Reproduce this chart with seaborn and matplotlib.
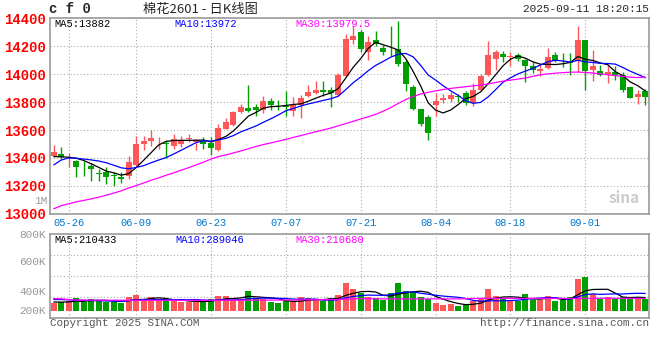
import numpy as np
import pandas as pd
import matplotlib
matplotlib.use("Agg")
import matplotlib.pyplot as plt
import seaborn as sns

# ── 棉花2601 日K ──
opens = [13412, 13428, 13390, 13375, 13338, 13342, 13290, 13302, 13276, 13263,
         13269, 13351, 13497, 13518, 13518, 13507, 13486, 13500, 13536, 13514,
         13524, 13507, 13460, 13610, 13633, 13728, 13760, 13765, 13740, 13810,
         13781, 13772, 13738, 13780, 13846, 13867, 13886, 13886, 13850, 13988,
         14245, 14299, 14158, 14247, 14189, 14190, 14177, 14089, 13911, 13750,
         13695, 13780, 13818, 13822, 13845, 13866, 13796, 13885, 13995, 14112,
         14147, 14120, 14138, 14102, 14060, 14025, 14045, 14138, 14090, 14086,
         14097, 14245, 14031, 14020, 14000, 14019, 13996, 13907, 13834, 13876]
highs = [13490, 13479, 13438, 13388, 13376, 13363, 13320, 13333, 13300, 13300,
         13412, 13557, 13555, 13598, 13550, 13531, 13568, 13560, 13574, 13538,
         13550, 13548, 13645, 13683, 13736, 13783, 13924, 13789, 13845, 13831,
         13818, 13881, 13836, 13850, 13922, 13952, 13952, 13910, 14010, 14286,
         14344, 14314, 14274, 14310, 14212, 14345, 14381, 14105, 13921, 13752,
         13707, 13865, 13857, 13875, 13858, 13876, 13940, 14000, 14240, 14172,
         14163, 14160, 14155, 14110, 14090, 14067, 14190, 14158, 14150, 14150,
         14348, 14245, 14174, 14067, 14067, 14060, 14012, 13910, 13888, 13895]
lows = [13405, 13395, 13335, 13262, 13274, 13238, 13238, 13211, 13198, 13217,
        13250, 13345, 13460, 13485, 13467, 13398, 13463, 13476, 13514, 13457,
        13464, 13419, 13448, 13605, 13628, 13722, 13731, 13700, 13721, 13745,
        13743, 13700, 13700, 13685, 13840, 13860, 13843, 13767, 13843, 13985,
        14219, 14160, 14098, 14200, 14140, 14128, 14060, 13880, 13740, 13629,
        13526, 13697, 13793, 13800, 13802, 13781, 13769, 13880, 13990, 14031,
        14085, 14055, 14095, 13945, 14010, 13985, 14040, 14090, 14050, 13995,
        14019, 13883, 13948, 13990, 13940, 13955, 13869, 13826, 13788, 13781]
closes = [13440, 13408, 13395, 13335, 13333, 13318, 13283, 13263, 13271, 13249,
          13369, 13502, 13524, 13544, 13524, 13498, 13534, 13531, 13542, 13531,
          13502, 13471, 13614, 13655, 13726, 13766, 13738, 13744, 13810, 13780,
          13776, 13768, 13781, 13831, 13875, 13886, 13869, 13862, 13994, 14251,
          14272, 14178, 14228, 14214, 14161, 14186, 14075, 13926, 13750, 13644,
          13581, 13811, 13826, 13852, 13838, 13795, 13890, 13989, 14138, 14162,
          14120, 14127, 14105, 14057, 14031, 14036, 14124, 14096, 14085, 14082,
          14245, 14024, 14055, 13995, 14019, 13995, 13883, 13829, 13860, 13833]
# volume in K, as drawn
volumes = [153, 167, 193, 253, 173, 227, 200, 180, 180, 160,
           273, 313, 200, 273, 227, 207, 193, 180, 167, 193,
           180, 233, 293, 293, 220, 240, 393, 247, 233, 173,
           153, 193, 173, 273, 247, 227, 193, 247, 313, 553,
           433, 353, 280, 253, 220, 353, 553, 393, 373, 280,
           233, 153, 113, 133, 93, 113, 187, 227, 433, 293,
           227, 213, 187, 333, 213, 213, 293, 193, 213, 273,
           633, 673, 327, 233, 273, 247, 280, 280, 267, 240]

# moving averages before the window fills (need history not on the chart)
ma5_head = [13410, 13408, 13405, 13398]
ma10_head = [13350, 13385, 13400, 13398, 13392, 13386, 13378, 13366, 13348]
ma30 = [13036, 13058, 13072, 13085, 13096, 13107, 13119, 13133, 13148, 13164,
        13185, 13202, 13220, 13240, 13257, 13276, 13293, 13312, 13330, 13350,
        13370, 13392, 13410, 13422, 13436, 13450, 13466, 13482, 13496, 13508,
        13520, 13533, 13547, 13560, 13574, 13588, 13600, 13614, 13630, 13646,
        13662, 13679, 13695, 13712, 13735, 13760, 13790, 13818, 13840, 13858,
        13870, 13880, 13890, 13898, 13904, 13910, 13916, 13922, 13930, 13940,
        13950, 13957, 13965, 13972, 13985, 13995, 14002, 14007, 14011, 14014,
        14015, 14012, 14008, 14002, 13996, 13990, 13984, 13978, 13976, 13979.5]
vol_ma5_head = [175, 170, 178, 190]
vol_ma10_head = [225, 222, 218, 212, 207, 203, 199, 196, 192]
vol_ma30 = [240, 238, 222, 213, 212, 212, 211, 210, 210, 209,
            208, 208, 207, 207, 207, 208, 208, 207, 207, 208,
            208, 209, 209, 210, 210, 210, 211, 211, 212, 212,
            213, 214, 215, 216, 217, 218, 220, 224, 228, 232,
            236, 240, 240, 238, 236, 236, 236, 236, 236, 236,
            236, 236, 236, 236, 236, 240, 244, 247, 247, 247,
            247, 247, 247, 247, 247, 247, 247, 247, 247, 244,
            240, 245, 248, 248, 247, 247, 247, 246, 246, 246]

tick_idx = [2, 11, 21, 31, 41, 51, 61, 71]
tick_labels = ["05-26", "06-09", "06-23", "07-07", "07-21", "08-04", "08-18", "09-01"]
price_ticks = [13000, 13200, 13400, 13600, 13800, 14000, 14200, 14400]

RED = "#ff5757"
GREEN = "#00a000"
GRID = "#aaaaaa"
FRAME = "#999999"
MONO = "Liberation Mono"

df = pd.DataFrame({"open": opens, "high": highs, "low": lows,
                   "close": closes, "vol": volumes})
df["idx"] = np.arange(len(df))
df["up"] = df["close"] >= df["open"]
df["ma5"] = df["close"].rolling(5).mean()
df.loc[:3, "ma5"] = ma5_head
df["ma10"] = df["close"].rolling(10).mean()
df.loc[:8, "ma10"] = ma10_head
df["ma30"] = ma30
df["vma5"] = df["vol"].rolling(5).mean()
df.loc[:3, "vma5"] = vol_ma5_head
df["vma10"] = df["vol"].rolling(10).mean()
df.loc[:8, "vma10"] = vol_ma10_head
df["vma30"] = vol_ma30

sns.set_style("white")
plt.rcParams["font.family"] = ["Noto Sans CJK SC", "DejaVu Sans"]

fig = plt.figure(figsize=(6.6, 3.6), dpi=100)
ax = fig.add_axes([50 / 660, 1 - 213.8 / 360, 599 / 660, 195.5 / 360])
axv = fig.add_axes([50 / 660, 1 - 318.3 / 360, 599 / 660, 84.3 / 360])

colors = np.where(df["up"], RED, GREEN)

# ── candles ──
ax.vlines(df["idx"], df["low"], df["high"], colors=colors, linewidth=1, zorder=3)
body_lo = np.minimum(df["open"], df["close"])
body_h = np.maximum(np.abs(df["close"] - df["open"]), 4)
ax.bar(df["idx"], body_h, bottom=body_lo, width=0.8, color=colors,
       linewidth=0, zorder=4)

sns.lineplot(x=df["idx"], y=df["ma5"], ax=ax, color="black", linewidth=0.9, zorder=5)
sns.lineplot(x=df["idx"], y=df["ma10"], ax=ax, color="#0000ff", linewidth=0.9, zorder=5)
sns.lineplot(x=df["idx"], y=df["ma30"], ax=ax, color="#ff00ff", linewidth=0.9, zorder=5)

ax.set_xlim(-0.5, len(df) - 0.5)
ax.set_ylim(13000, 14400)
ax.set_yticks(price_ticks)
ax.set_yticklabels([str(p) for p in price_ticks], color="#ff0000",
                   fontfamily=MONO, fontsize=10, fontweight="bold")
ax.set_xticks(tick_idx)
ax.set_xticklabels(tick_labels, color="#0077cc", fontfamily=MONO, fontsize=7.5)
ax.tick_params(length=0, pad=3)
ax.tick_params(axis="y", pad=3)
ax.set_xlabel("")
ax.set_ylabel("")
for p in price_ticks[1:-1]:
    ax.axhline(p, color=GRID, linestyle=(0, (1, 2)), linewidth=0.8, zorder=1)
for t in tick_idx:
    ax.axvline(t, color=GRID, linestyle=(0, (1, 2)), linewidth=0.8, zorder=1)

# ── volume ──
vlo, vhi = -152, 1534
axv.bar(df["idx"], df["vol"], width=0.8, color=colors, linewidth=0, zorder=3)
sns.lineplot(x=df["idx"], y=df["vma5"], ax=axv, color="black", linewidth=0.9, zorder=5)
sns.lineplot(x=df["idx"], y=df["vma10"], ax=axv, color="#0000ff", linewidth=0.9, zorder=5)
sns.lineplot(x=df["idx"], y=df["vma30"], ax=axv, color="#ff00ff", linewidth=0.9, zorder=5)
axv.set_xlim(-0.5, len(df) - 0.5)
axv.set_ylim(vlo, vhi)
axv.set_xticks(tick_idx)
axv.set_xticklabels([])
axv.set_yticks([vhi, 994, 394, 14])
axv.set_yticklabels(["800K", "600K", "400K", "200K"], color="#999999",
                    fontfamily=MONO, fontsize=8)
axv.tick_params(length=0, pad=3)
axv.set_xlabel("")
axv.set_ylabel("")
for k in (1, 2, 3):
    axv.axhline(vlo + (vhi - vlo) * k / 4, color=GRID, linestyle=(0, (1, 2)),
                linewidth=0.8, zorder=1)
for t in tick_idx:
    axv.axvline(t, color=GRID, linestyle=(0, (1, 2)), linewidth=0.8, zorder=1)

for a in (ax, axv):
    for s in a.spines.values():
        s.set_color(FRAME)
        s.set_linewidth(1.2)
    a.set_facecolor("white")

# ── legends inside panels ──
ax.text(0.007, 0.995, "MA5:13882", transform=ax.transAxes, va="top",
        fontfamily=MONO, fontsize=7.5, color="black")
ax.text(0.207, 0.995, "MA10:13972", transform=ax.transAxes, va="top",
        fontfamily=MONO, fontsize=7.5, color="#0000ff")
ax.text(0.409, 0.995, "MA30:13979.5", transform=ax.transAxes, va="top",
        fontfamily=MONO, fontsize=7.5, color="#ff00ff")
axv.text(0.007, 0.985, "MA5:210433", transform=axv.transAxes, va="top",
         fontfamily=MONO, fontsize=7.5, color="black")
axv.text(0.209, 0.985, "MA10:289046", transform=axv.transAxes, va="top",
         fontfamily=MONO, fontsize=7.5, color="#0000ff")
axv.text(0.409, 0.985, "MA30:210680", transform=axv.transAxes, va="top",
         fontfamily=MONO, fontsize=7.5, color="#ff00ff")
ax.text(0.985, 0.04, "sina", transform=ax.transAxes, ha="right", va="bottom",
        fontsize=11, fontweight="bold", fontstyle="italic", color="#cccccc")

# ── header / footer ──
fig.text(49 / 660, 1 - 9 / 360, "c f 0", ha="left", va="center",
         fontfamily=MONO, fontsize=10, fontweight="bold")
fig.text(200 / 660, 1 - 9 / 360, "棉花2601 - 日K线图", ha="center", va="center",
         fontsize=9.5)
fig.text(649 / 660, 1 - 9 / 360, "2025-09-11 18:20:15", ha="right", va="center",
         fontfamily=MONO, fontsize=8)
fig.text(47 / 660, 1 - 200.5 / 360, "1M", ha="right", va="center",
         fontfamily=MONO, fontsize=8, color="#999999")
fig.text(50 / 660, 1 - 323 / 360, "Copyright 2025 SINA.COM", ha="left", va="center",
         fontfamily=MONO, fontsize=7.8, color="#555555")
fig.text(649 / 660, 1 - 323 / 360, "http://finance.sina.com.cn", ha="right",
         va="center", fontfamily=MONO, fontsize=7.8, color="#555555")

fig.savefig("out.png", dpi=100, facecolor="white")
